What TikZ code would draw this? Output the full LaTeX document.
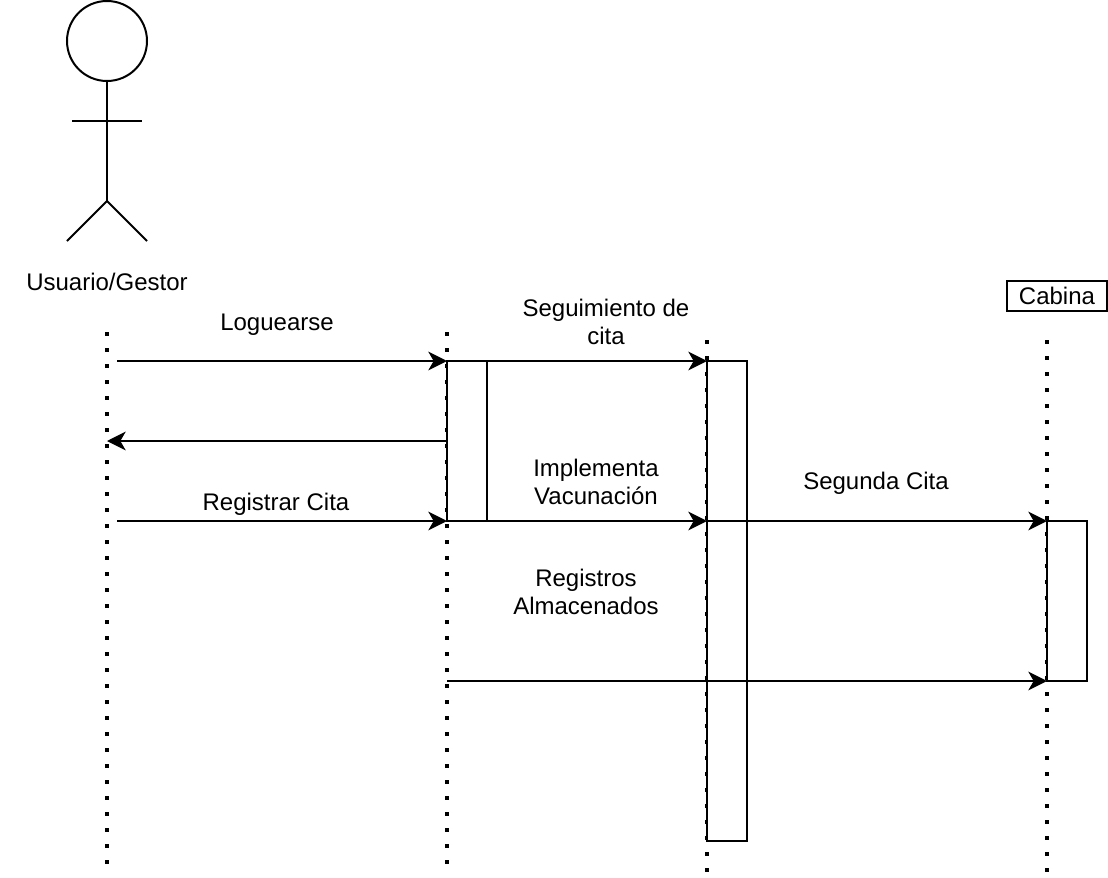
\documentclass[tikz,border=0pt]{standalone}
\usepackage{fontspec}
\setmainfont{Liberation Sans}
\usetikzlibrary{arrows.meta}
\tikzset{
	linea/.style={line width=1.5pt},
	flecha/.style={linea, -{Stealth[length=14pt,width=14pt,inset=4pt]}},
	vida/.style={line width=3pt, dash pattern=on 3pt off 9pt},
	caja/.style={rectangle, draw, fill=white, linea, inner sep=0pt, outer sep=0pt, minimum width=30pt},
	texto/.style={inner sep=0pt, align=center, font=\fontsize{18pt}{21.4pt}\selectfont}
}
\begin{document}
\begin{tikzpicture}[x=0.75pt, y=-0.75pt]
	\useasboundingbox (0,0) rectangle (1108,878);
	\coordinate (v1a) at (107,332);
	\coordinate (v1b) at (107,864);
	\coordinate (v2a) at (447,332);
	\coordinate (v2b) at (447,864);
	\coordinate (v3a) at (707,340);
	\coordinate (v3b) at (707,872);
	\coordinate (v4a) at (1047,340);
	\coordinate (v4b) at (1047,872);
	\draw[vida] (v1a) -- (v1b);
	\draw[vida] (v2a) -- (v2b);
	\draw[vida] (v3a) -- (v3b);
	\draw[vida] (v4a) -- (v4b);
	\node[circle, draw, linea, inner sep=0pt, outer sep=0pt, minimum size=60pt] (cabeza) at (107,41) {};
	\coordinate (cadera) at (107,201);
	\coordinate (brazoi) at (72,121);
	\coordinate (brazod) at (142,121);
	\coordinate (piei) at (67,241);
	\coordinate (pied) at (147,241);
	\draw[linea] (cabeza.south) -- (cadera);
	\draw[linea] (brazoi) -- (brazod);
	\draw[linea] (piei) -- (cadera) -- (pied);
	\node[texto] (usuario) at (107,282) {Usuario/Gestor};
	\node[texto, rectangle, draw, linea, outer sep=0pt, minimum width=75pt, minimum height=22.5pt] (cabina) at (1057,296) {Cabina};
	\node[caja, minimum height=120pt] (act1) at (467,441) {};
	\node[caja, minimum height=360pt] (act2) at (727,601) {};
	\node[caja, minimum height=120pt] (act3) at (1067,601) {};
	\coordinate (m1) at (117,361);
	\coordinate (m2) at (107,441);
	\coordinate (m3) at (117,521);
	\coordinate (m4) at (447,441);
	\coordinate (m5) at (707,521);
	\coordinate (m6) at (447,681);
	\draw[flecha] (m1) -- (act1.north west);
	\draw[flecha] (m4) -- (m2);
	\draw[flecha] (m3) -- (act1.south west);
	\draw[flecha] (act1.north east) -- (act2.north west);
	\draw[flecha] (act1.south east) -- (m5);
	\draw[flecha] (m5) -- (act3.north west);
	\draw[flecha] (m6) -- (act3.south west);
	\node[texto] (loguearse) at (277,325) {Loguearse};
	\node[texto] (seguimiento) at (606,322) {Seguimiento de\\cita};
	\node[texto] (registrar) at (276,504) {Registrar Cita};
	\node[texto] (implementa) at (596,482) {Implementa\\Vacunación};
	\node[texto] (segunda) at (876,483) {Segunda Cita};
	\node[texto] (registros) at (586,592) {Registros\\Almacenados};
\end{tikzpicture}
\end{document}
